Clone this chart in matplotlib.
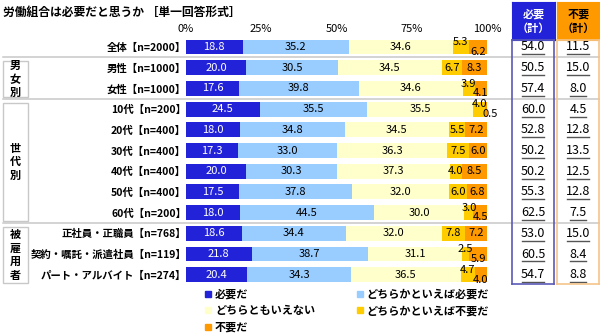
import matplotlib
matplotlib.use('Agg')
import matplotlib.pyplot as plt
from matplotlib.lines import Line2D
from matplotlib.patches import Rectangle
from matplotlib.transforms import blended_transform_factory

plt.rcParams['font.family'] = ['Noto Sans CJK JP', 'DejaVu Sans']

title = '労働組合は必要だと思うか ［単一回答形式］'
rows = ['全体【n=2000】', '男性【n=1000】', '女性【n=1000】',
        '10代【n=200】', '20代【n=400】', '30代【n=400】', '40代【n=400】',
        '50代【n=400】', '60代【n=200】',
        '正社員・正職員【n=768】', '契約・嘱託・派遣社員【n=119】', 'パート・アルバイト【n=274】']
need = [18.8, 20.0, 17.6, 24.5, 18.0, 17.3, 20.0, 17.5, 18.0, 18.6, 21.8, 20.4]
some_need = [35.2, 30.5, 39.8, 35.5, 34.8, 33.0, 30.3, 37.8, 44.5, 34.4, 38.7, 34.3]
neutral = [34.6, 34.5, 34.6, 35.5, 34.5, 36.3, 37.3, 32.0, 30.0, 32.0, 31.1, 36.5]
some_unneed = [5.3, 6.7, 3.9, 4.0, 5.5, 7.5, 4.0, 6.0, 3.0, 7.8, 2.5, 4.7]
unneed = [6.2, 8.3, 4.1, 0.5, 7.2, 6.0, 8.5, 6.8, 4.5, 7.2, 5.9, 4.0]
need_total = [54.0, 50.5, 57.4, 60.0, 52.8, 50.2, 50.2, 55.3, 62.5, 53.0, 60.5, 54.7]
unneed_total = [11.5, 15.0, 8.0, 4.5, 12.8, 13.5, 12.5, 12.8, 7.5, 15.0, 8.4, 8.8]
series_names = ['必要だ', 'どちらかといえば必要だ', 'どちらともいえない',
                'どちらかといえば不要だ', '不要だ']
colors = ['#2222d8', '#99ccff', '#ffffcc', '#ffcc00', '#ff9900']
groups = [('男\n女\n別', 1, 2), ('世\n代\n別', 3, 8), ('被\n雇\n用\n者', 9, 11)]
ticks = [0, 25, 50, 75, 100]

W, H = 600, 336
top_row, pitch = 47.0, 20.7


def ylim_for(a, b):
    # data limits (inverted) for an axes spanning pixel rows a..b
    return (b - top_row) / pitch, (a - top_row) / pitch


def add_ax(x0, x1, y0, y1):
    return fig.add_axes([x0 / W, 1 - y1 / H, (x1 - x0) / W, (y1 - y0) / H])


fig = plt.figure(figsize=(W / 100, H / 100), dpi=100)
fig.text(3 / W, 1 - 12 / H, title, fontsize=8.5, fontweight='bold', va='center')

# main bars
y0, y1 = top_row - pitch / 2, top_row + 11.5 * pitch
ax = add_ax(186, 487, y0, y1)
ax.set_xlim(0, 100)
ax.set_ylim(*ylim_for(y0, y1))
for s in ax.spines.values():
    s.set_visible(False)

series = [need, some_need, neutral, some_unneed, unneed]
left = [0.0] * len(rows)
for j, vals in enumerate(series):
    ax.barh(range(len(rows)), vals, left=left, height=0.72, color=colors[j],
            label=series_names[j])
    for i, v in enumerate(vals):
        cx = left[i] + v / 2
        dx, dy = 0, 0
        small = some_unneed[i] + unneed[i] < 12
        if j == 3 and small:
            dy = 3.5
        if j == 4 and small:
            dy = -3.5
            if v < 1:
                dx = 3
        ax.annotate(f'{v:.1f}', (cx, i), xytext=(dx, dy), textcoords='offset points',
                    ha='center', va='center', fontsize=8,
                    color='white' if j == 0 else 'black')
    left = [l + v for l, v in zip(left, vals)]

ax.xaxis.set_ticks_position('top')
ax.set_xticks(ticks, [f'{t}%' for t in ticks], fontsize=8)
ax.set_yticks(range(len(rows)), rows, fontsize=7.5, fontweight='bold')
ax.tick_params(axis='x', length=0, pad=2)
ax.tick_params(axis='y', length=0, pad=0)

# separators between groups
for yb in [0.5, 2.5, 8.5]:
    ax.axhline(yb, xmin=(3 - 186) / 301, xmax=(600 - 186) / 301, color='#c8c8c8',
               lw=1.1, clip_on=False, zorder=0)

# group boxes on the left
tr = blended_transform_factory(fig.transFigure, ax.transData)
for name, a, b in groups:
    ax.add_patch(Rectangle((3 / W, a - 0.3), 25 / W, b - a + 0.7, transform=tr,
                           fill=False, ec='#c8c8c8', lw=1, clip_on=False))
    ax.text(15.5 / W, (a + b) / 2 + 0.05, name, transform=tr, ha='center', va='center',
            fontsize=8, fontweight='bold', linespacing=1.05)

# summary columns
col_specs = [(512, 555, need_total, '#2222d8', '#5a5ab8', '必要\n（計）', 'white'),
             (557, 600, unneed_total, '#ff9900', '#f5c48a', '不要\n（計）', 'black')]
for x0, x1, vals, head_c, edge_c, head_t, head_tc in col_specs:
    hax = add_ax(x0, x1, 2, 40)
    hax.set_facecolor(head_c)
    hax.set_xticks([])
    hax.set_yticks([])
    for s in hax.spines.values():
        s.set_color(head_c)
    hax.text(0.5, 0.5, head_t, ha='center', va='center', fontsize=8,
             fontweight='bold', color=head_tc, linespacing=1.15)

    cax = add_ax(x0, x1 - 1, 40, 284)
    cax.set_xlim(0, 1)
    cax.set_ylim(*ylim_for(40, 284))
    cax.set_xticks([])
    cax.set_yticks([])
    cax.patch.set_alpha(0)
    for s in cax.spines.values():
        s.set_color(edge_c)
        s.set_linewidth(1.2)
    for i, v in enumerate(vals):
        cax.text(0.5, i, f'{v:.1f}', ha='center', va='center', fontsize=9)
        w = 0.27 if v >= 10 else 0.2
        cax.plot([0.5 - w, 0.5 + w], [i + 0.36, i + 0.36], color='#555555', lw=1)

# legend, filled column-wise to match the row-wise reference order
order = [0, 2, 4, 1, 3]
handles = [Line2D([], [], marker='s', ls='', markersize=4, color=colors[k]) for k in order]
fig.legend(handles, [series_names[k] for k in order], ncol=2, loc='upper left',
           bbox_to_anchor=(205 / W, 1 - 288 / H), frameon=False,
           prop={'weight': 'bold', 'size': 8}, handlelength=0.6, handletextpad=0.3,
           columnspacing=3.7, labelspacing=0.3, borderpad=0, borderaxespad=0)

fig.savefig('out.png', dpi=100)
